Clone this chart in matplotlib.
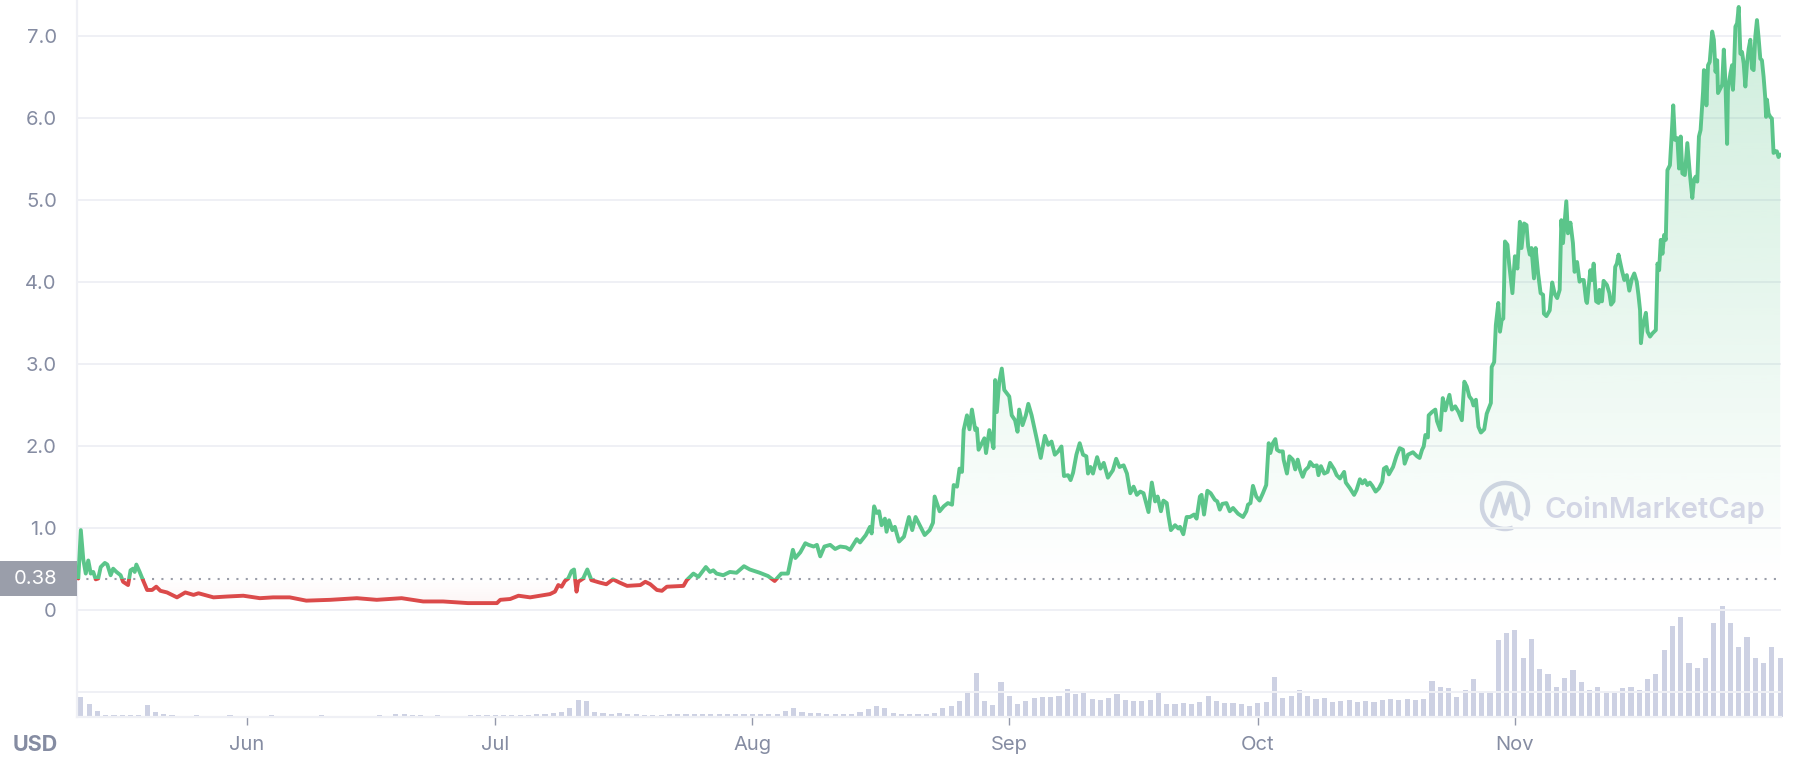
import numpy as np
import pandas as pd
import matplotlib
matplotlib.use('Agg')
import matplotlib.pyplot as plt
import matplotlib.dates as mdates
from matplotlib.patches import Rectangle, Arc
from matplotlib.transforms import blended_transform_factory

plt.rcParams['font.family'] = ['Inter', 'DejaVu Sans']

# ---------------------------------------------------------------------------
# data: days since 2021-05-01 and price in USD
# ---------------------------------------------------------------------------
START = pd.Timestamp('2021-05-01')
BASE_PRICE = 0.38

day_offset = [
    10.7, 11.0, 11.3, 11.6, 11.9, 12.2, 12.5, 12.8, 13.1, 13.4, 13.9, 14.2, 14.6, 14.9,
    15.3, 15.8, 16.1, 16.7, 17.0, 17.3, 17.5, 17.7, 18.1, 18.5, 19.0, 19.6, 20.1, 20.6,
    21.4, 22.6, 23.6, 24.6, 25.2, 27.0, 28.6, 30.6, 32.6, 34.2, 36.2, 38.2, 41.1, 44.3,
    46.7, 49.7, 52.3, 54.7, 57.7, 61.2, 61.6, 62.8, 63.8, 65.2, 66.4, 67.6, 68.2, 68.6,
    69.0, 69.4, 69.8, 70.2, 70.5, 70.8, 71.0, 71.6, 72.1, 72.6, 73.6, 74.4, 75.2, 76.0,
    76.9, 78.5, 79.1, 79.7, 80.5, 81.1, 81.7, 83.7, 84.1, 84.9, 85.5, 86.4, 86.9, 87.3,
    87.7, 88.5, 89.3, 90.1, 91.0, 91.7, 92.9, 93.9, 94.7, 95.5, 96.3, 96.9, 97.2, 97.8,
    98.4, 98.8, 99.4, 99.8, 100.2, 100.7, 101.4, 102.0, 102.6, 103.3, 103.8, 104.6, 105.0,
    105.7, 106.2, 106.4, 106.7, 107.0, 107.3, 107.6, 108.0, 108.2, 108.5, 108.9, 109.2,
    109.7, 110.3, 110.9, 111.3, 111.7, 112.2, 112.8, 113.4, 113.8, 114.0, 114.6, 115.1,
    115.6, 116.1, 116.3, 116.7, 117.0, 117.3, 117.5, 117.9, 118.2, 118.5, 118.9, 119.1,
    119.3, 119.7, 120.0, 120.2, 120.6, 120.9, 121.1, 121.3, 121.5, 121.8, 122.1, 122.4,
    123.0, 123.3, 123.7, 124.0, 124.2, 124.6, 125.0, 125.3, 125.7, 126.3, 126.8, 127.3,
    127.7, 128.1, 128.5, 128.9, 129.3, 129.6, 130.1, 130.4, 130.7, 131.1, 131.5, 131.9,
    132.3, 132.5, 132.8, 133.1, 133.6, 134.0, 134.4, 134.9, 135.5, 135.9, 136.3, 136.8,
    137.2, 137.6, 138.0, 138.4, 138.8, 139.2, 139.8, 140.2, 140.6, 140.9, 141.3, 141.6,
    142.0, 142.2, 142.5, 143.0, 143.4, 143.6, 144.0, 144.4, 144.8, 145.3, 145.6, 146.0,
    146.2, 146.5, 146.9, 147.3, 147.8, 148.1, 148.4, 148.7, 149.2, 149.6, 150.0, 150.6,
    151.2, 151.6, 151.8, 152.1, 152.4, 152.8, 153.2, 153.6, 154.0, 154.3, 154.5, 154.8,
    155.1, 155.3, 155.6, 156.0, 156.1, 156.5, 156.8, 157.2, 157.5, 157.8, 158.1, 158.4,
    158.7, 159.1, 159.3, 159.7, 160.1, 160.3, 160.6, 161.0, 161.4, 161.7, 162.2, 162.5,
    162.9, 163.4, 163.6, 164.1, 164.6, 164.9, 165.3, 165.6, 165.9, 166.2, 166.5, 166.8,
    167.2, 167.6, 168.0, 168.2, 168.5, 168.8, 169.3, 169.7, 170.1, 170.5, 170.7, 171.1,
    171.7, 172.2, 172.5, 172.8, 173.0, 173.2, 173.5, 173.6, 174.0, 174.4, 174.6, 175.0,
    175.3, 175.6, 175.8, 176.1, 176.4, 176.8, 177.2, 177.6, 177.9, 178.2, 178.5, 178.8,
    179.0, 179.3, 179.6, 179.9, 180.3, 180.6, 181.1, 181.2, 181.5, 181.7, 182.0, 182.2,
    182.4, 182.6, 182.7, 182.8, 183.1, 183.3, 183.7, 184.0, 184.3, 184.6, 184.8, 185.1,
    185.4, 185.6, 185.8, 186.0, 186.3, 186.5, 186.8, 187.1, 187.4, 187.5, 187.8, 188.2,
    188.5, 188.8, 189.1, 189.4, 189.6, 189.8, 190.2, 190.4, 190.7, 191.0, 191.2, 191.5,
    191.8, 192.0, 192.3, 192.6, 192.7, 193.1, 193.3, 193.5, 193.8, 194.1, 194.2, 194.5,
    194.7, 195.1, 195.4, 195.6, 195.9, 196.1, 196.3, 196.5, 196.9, 197.2, 197.5, 197.8,
    198.1, 198.4, 198.7, 198.9, 199.1, 199.2, 199.4, 199.6, 199.8, 200.0, 200.3, 200.6,
    201.0, 201.2, 201.4, 201.6, 201.8, 202.0, 202.2, 202.4, 202.7, 202.9, 203.1, 203.3,
    203.6, 203.8, 204.0, 204.2, 204.5, 204.8, 205.1, 205.4, 205.6, 205.8, 206.0, 206.2,
    206.4, 206.7, 206.8, 207.0, 207.1, 207.3, 207.5, 207.8, 208.0, 208.2, 208.4, 208.5,
    208.7, 209.0, 209.2, 209.4, 209.6, 209.7, 210.0, 210.2, 210.3, 210.4, 210.6, 210.8,
    211.0, 211.2, 211.4, 211.6, 211.8, 212.0, 212.2, 212.4, 212.6, 212.8, 213.0, 213.2,
    213.4, 213.6, 213.8, 214.0, 214.2, 214.3, 214.4, 214.6, 214.8, 215.0, 215.2, 215.4,
    215.6, 215.8, 216.0,
]

price = [
    0.38, 0.97, 0.61, 0.44, 0.60, 0.44, 0.46, 0.37, 0.38, 0.52, 0.57, 0.55, 0.42, 0.50,
    0.46, 0.42, 0.34, 0.30, 0.48, 0.50, 0.46, 0.55, 0.46, 0.36, 0.24, 0.24, 0.28, 0.23,
    0.21, 0.15, 0.21, 0.18, 0.20, 0.15, 0.16, 0.17, 0.14, 0.15, 0.15, 0.11, 0.12, 0.14,
    0.12, 0.14, 0.10, 0.10, 0.08, 0.08, 0.12, 0.13, 0.17, 0.15, 0.17, 0.19, 0.22, 0.30,
    0.28, 0.35, 0.38, 0.47, 0.49, 0.22, 0.34, 0.38, 0.49, 0.36, 0.33, 0.31, 0.37, 0.33,
    0.29, 0.30, 0.34, 0.31, 0.24, 0.23, 0.28, 0.29, 0.36, 0.44, 0.40, 0.52, 0.46, 0.48,
    0.44, 0.42, 0.46, 0.45, 0.53, 0.49, 0.45, 0.41, 0.35, 0.44, 0.44, 0.73, 0.63, 0.70,
    0.81, 0.79, 0.77, 0.79, 0.65, 0.77, 0.79, 0.74, 0.77, 0.76, 0.73, 0.86, 0.82,
    0.91, 1.01, 0.93, 1.26, 1.18, 1.20, 1.03, 1.11, 0.95, 1.09, 0.97, 1.01,
    0.83, 0.89, 1.13, 0.97, 1.13, 1.03, 0.91, 0.97, 1.06, 1.38, 1.20, 1.26,
    1.30, 1.28, 1.52, 1.50, 1.72, 1.68, 2.19, 2.37, 2.20, 2.44, 2.19, 2.21,
    1.95, 2.03, 2.09, 1.91, 2.19, 2.07, 1.97, 2.80, 2.41, 2.78, 2.94, 2.68,
    2.60, 2.37, 2.31, 2.17, 2.44, 2.25, 2.37, 2.51, 2.37, 2.09, 1.85, 2.12,
    2.01, 2.05, 1.89, 1.93, 1.99, 1.63, 1.64, 1.58, 1.67, 1.89, 2.03, 1.89,
    1.87, 1.66, 1.74, 1.66, 1.86, 1.72, 1.79, 1.61, 1.70, 1.84, 1.74, 1.76,
    1.66, 1.42, 1.50, 1.40, 1.44, 1.42, 1.19, 1.55, 1.32, 1.38, 1.20, 1.33,
    1.30, 1.15, 0.97, 1.03, 0.99, 1.01, 0.92, 1.13, 1.13, 1.16, 1.11, 1.38,
    1.40, 1.16, 1.45, 1.42, 1.34, 1.32, 1.22, 1.29, 1.30, 1.20, 1.24, 1.17,
    1.13, 1.20, 1.28, 1.30, 1.51, 1.38, 1.33, 1.42, 1.52, 2.03, 1.91, 2.03,
    2.08, 1.95, 1.93, 1.93, 1.83, 1.66, 1.87, 1.83, 1.71, 1.83, 1.70, 1.62,
    1.70, 1.74, 1.80, 1.75, 1.76, 1.64, 1.75, 1.66, 1.68, 1.79, 1.71, 1.64,
    1.60, 1.68, 1.55, 1.48, 1.40, 1.46, 1.59, 1.54, 1.58, 1.52, 1.55, 1.51,
    1.44, 1.48, 1.56, 1.72, 1.74, 1.65, 1.74, 1.87, 1.97, 1.95, 1.78, 1.89,
    1.92, 1.87, 1.85, 1.95, 1.99, 2.13, 2.10, 2.37, 2.41, 2.44, 2.30, 2.19,
    2.58, 2.43, 2.51, 2.62, 2.44, 2.48, 2.41, 2.31, 2.78, 2.72, 2.60, 2.56,
    2.49, 2.56, 2.23, 2.16, 2.20, 2.39, 2.52, 2.96, 3.02, 3.47, 3.74, 3.39,
    3.53, 3.55, 3.98, 4.49, 4.45, 4.22, 3.86, 4.31, 4.16, 4.73, 4.41, 4.71,
    4.69, 4.43, 4.33, 4.41, 4.04, 4.41, 4.10, 3.86, 3.84, 3.61, 3.58, 3.65,
    3.99, 3.85, 3.80, 3.90, 4.75, 4.47, 4.98, 4.59, 4.72, 4.47, 4.12, 4.24,
    4.00, 4.02, 4.02, 3.76, 3.74, 4.14, 4.02, 4.22, 3.76, 3.74, 3.90, 3.76,
    4.01, 3.96, 3.86, 3.72, 3.76, 4.18, 4.22, 4.33, 4.14, 4.02, 4.08, 3.89,
    4.03, 4.10, 4.00, 3.84, 3.65, 3.25, 3.43, 3.53, 3.62, 3.39, 3.33, 3.37,
    3.41, 4.22, 4.14, 4.51, 4.34, 4.57, 4.51, 5.36, 5.42, 5.77, 6.15, 5.73,
    5.75, 5.38, 5.77, 5.32, 5.30, 5.69, 5.32, 5.02, 5.24, 5.28, 5.22, 5.77,
    5.85, 6.32, 6.58, 6.56, 6.15, 6.64, 6.68, 7.05, 6.95, 6.56, 6.70, 6.30,
    6.34, 6.40, 6.83, 6.42, 5.68, 6.34, 6.54, 6.64, 6.34, 6.52, 7.11, 7.15,
    7.35, 6.78, 6.80, 6.66, 6.38, 6.66, 6.84, 6.95, 6.60, 6.58, 6.99, 7.19,
    6.97, 6.72, 6.70, 6.50, 6.24, 6.01, 6.22, 6.05, 6.01, 5.99, 5.57, 5.59,
    5.59, 5.52, 5.55,
]

# daily trading volume, % of the volume panel height
volume = [
    19, 12, 6, 2, 2, 1.5, 1.5, 2, 11, 5, 3, 2,
    1.3, 1.2, 1.4, 1.3, 1.2, 1.3, 1.5, 1.3, 1.2, 1.3, 1.2, 1.4, 1.3,
    1.2, 1.3, 1.2, 1.3, 1.4, 1.2, 1.3, 1.2, 1.3, 1.2, 1.3, 1.4, 1.3,
    2.5, 3, 1.5, 1.4,
    1.3, 1.4, 1.3, 1.2, 1.3, 1.5, 1.6,
    1.5, 2, 2, 1.5, 2, 2,
    2.5, 3, 4, 5, 8, 16, 15, 5, 4, 3, 3.5, 3, 2.5,
    1.5, 1.5, 2, 2.5, 3, 3, 3, 3, 3, 3, 3, 3,
    3, 3, 3, 2.5, 3,
    6, 8, 5, 4, 4, 3, 3, 3, 3, 5, 7, 10, 8, 4,
    3, 3, 3, 3, 4,
    8, 10, 15, 22, 41, 15, 11, 33, 20, 12, 15, 18, 19, 19, 20, 26, 21, 22,
    17, 16, 18, 21, 16, 15, 15, 16, 22, 12, 12, 13, 12, 14, 20, 15, 13, 13,
    12, 10, 13, 14, 37, 18, 20, 25, 20, 17, 18, 14, 15, 16, 14, 15, 14, 16,
    17, 16, 17, 16, 17, 34, 28, 27, 19, 25, 35, 22, 24, 72, 78, 81, 55, 73,
    45, 40, 28, 36, 44, 33, 25, 28, 24, 22, 27, 28, 25, 35, 40, 62, 85, 93,
    50, 46, 55, 88, 103, 88, 65, 75, 55, 50, 65, 55,
]
volume_day = np.arange(11, 11 + len(volume))

month_ticks = [6, 7, 8, 9, 10, 11]
y_ticks = [0, 1, 2, 3, 4, 5, 6, 7]
y_labels = ['0', '1.0', '2.0', '3.0', '4.0', '5.0', '6.0', '7.0']

# ---------------------------------------------------------------------------
# styling
# ---------------------------------------------------------------------------
GREEN = '#5bc58a'
RED = '#db4a4a'
GRID = '#eff0f5'
LABEL = '#858ca2'
VOL = '#cdd1e3'

W, H = 1812, 770
fig = plt.figure(figsize=(W / 100, H / 100), dpi=100)
fig.patch.set_facecolor('white')

left, right = 77 / W, 1781 / W
axv = fig.add_axes([left, 53 / H, right - left, 107.3 / H])
ax = fig.add_axes([left, 53 / H, right - left, 717 / H])
ax.set_zorder(2)
axv.set_zorder(1)
ax.patch.set_visible(False)

t = mdates.date2num(START + pd.to_timedelta(day_offset, unit='D'))
price = np.array(price)
tv = mdates.date2num(START + pd.to_timedelta(volume_day, unit='D'))
x0 = mdates.date2num(START + pd.Timedelta(days=10.54))
x1 = mdates.date2num(START + pd.Timedelta(days=216.1))
y0, y1 = -1.309, 7.435

# volume bars
bars = axv.bar(tv, volume, width=0.62, color=VOL, linewidth=0)
for b in bars:
    b.set_clip_on(False)
axv.set_xlim(x0, x1)
axv.set_ylim(0, 100)
axv.axis('off')

# gridlines
for v in range(-1, 8):
    ax.axhline(v, color=GRID, lw=1.4, zorder=0)

# gradient fills between price and baseline
poly = ax.fill_between(t, price, BASE_PRICE, facecolor='none', edgecolor='none')
clip = poly.get_paths()[0]

g = np.zeros((256, 1, 4))
g[..., :3] = matplotlib.colors.to_rgb(GREEN)
g[:, 0, 3] = np.linspace(0.0, 0.30, 256)
im = ax.imshow(g, extent=[x0, x1, BASE_PRICE, 7.4], origin='lower',
               aspect='auto', interpolation='bilinear', zorder=1)
im.set_clip_path(clip, transform=ax.transData)

r = np.zeros((256, 1, 4))
r[..., :3] = matplotlib.colors.to_rgb(RED)
r[:, 0, 3] = np.linspace(0.07, 0.0, 256)
im2 = ax.imshow(r, extent=[x0, x1, 0.0, BASE_PRICE], origin='lower',
                aspect='auto', interpolation='bilinear', zorder=1)
im2.set_clip_path(clip, transform=ax.transData)

# baseline
ax.axhline(BASE_PRICE, color='#9a9ea9', lw=1.5, ls=(0, (1, 3.5)), zorder=2)

# price line: green above the baseline, red below
bt = blended_transform_factory(ax.transAxes, ax.transData)
up = Rectangle((0, BASE_PRICE), 1, 50, transform=bt)
down = Rectangle((0, BASE_PRICE - 50), 1, 50, transform=bt)
lg, = ax.plot(t, price, color=GREEN, lw=2.8, solid_joinstyle='round',
              solid_capstyle='round', zorder=4)
lg.set_clip_path(up)
lr, = ax.plot(t, price, color=RED, lw=2.8, solid_joinstyle='round',
              solid_capstyle='round', zorder=4)
lr.set_clip_path(down)

# baseline label box
fb = blended_transform_factory(fig.transFigure, ax.transData)
box = Rectangle((0, BASE_PRICE - 0.213), 77 / W, 0.427, transform=fb,
                facecolor='#9a9eaa', edgecolor='none', clip_on=False, zorder=5)
ax.add_patch(box)
ax.text(57 / W, BASE_PRICE, '0.38', transform=fb, ha='right', va='center',
        color='white', fontsize=14.5, zorder=6, clip_on=False)

# axes formatting
ax.set_xlim(x0, x1)
ax.set_ylim(y0, y1)
ax.set_yticks(y_ticks)
ax.set_yticklabels(y_labels)
ax.xaxis.set_major_locator(mdates.MonthLocator(bymonth=month_ticks))
ax.xaxis.set_major_formatter(mdates.DateFormatter('%b'))
ax.tick_params(axis='y', length=0, pad=14.5, labelsize=14.5, labelcolor=LABEL)
ax.tick_params(axis='x', length=6, width=1, color='#9499ab', pad=8,
               labelsize=14.5, labelcolor=LABEL)
for s in ['top', 'right']:
    ax.spines[s].set_visible(False)
for s in ['left', 'bottom']:
    ax.spines[s].set_color(GRID)
    ax.spines[s].set_linewidth(1.6)

fig.text(35 / W, 1 - 745 / H, 'USD', ha='center', va='center', fontsize=15.5,
         fontweight='bold', color=LABEL)

# watermark
la = fig.add_axes([(1505 - 26) / W, 1 - (506 + 26) / H, 52 / W, 52 / H])
la.set_xlim(-1.13, 1.13)
la.set_ylim(-1.13, 1.13)
la.axis('off')
la.add_patch(Arc((0, 0), 2, 2, theta1=-25, theta2=290, color='#d3d6e5', lw=3.2))
la.plot([-0.55, -0.23, 0.0, 0.28, 0.46, 0.72], [-0.45, 0.54, -0.33, 0.54, -0.41, -0.55],
        color='#d3d6e5', lw=3.2, solid_joinstyle='round', solid_capstyle='round')
fig.text(1545 / W, 1 - 510 / H, 'CoinMarketCap', ha='left', va='center',
         fontsize=21, fontweight='semibold', color='#d3d6e5')

fig.savefig('out.png', dpi=100)
